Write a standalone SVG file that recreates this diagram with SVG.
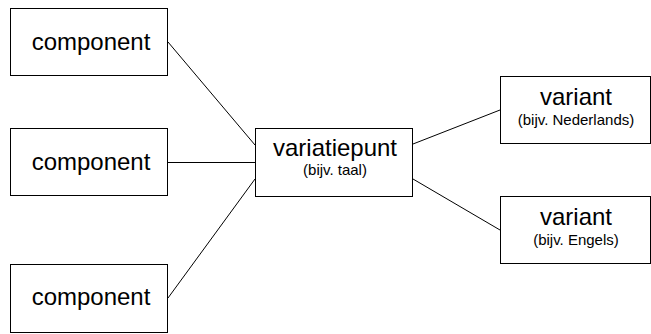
<svg xmlns="http://www.w3.org/2000/svg" width="651" height="334" viewBox="0 0 651 334">
<style>
.box{fill:#fff;stroke:#000;stroke-width:1}
.conn line{stroke:#000;stroke-width:1}
text{font-family:"Liberation Sans",Arial,sans-serif;fill:#000;text-anchor:middle}
.big{font-size:24px}
.small{font-size:15px}
</style>
<rect width="651" height="334" fill="#fff"/>
<g id="connectors" class="conn">
<line x1="168" y1="42" x2="255" y2="145"/>
<line x1="168" y1="162.5" x2="255" y2="162.5"/>
<line x1="168" y1="298" x2="255" y2="179"/>
<line x1="413" y1="144" x2="500" y2="110"/>
<line x1="413" y1="179" x2="500" y2="230"/>
</g>
<g id="component1"><rect class="box" x="10.5" y="8.5" width="157" height="67"/><text class="big" x="91" y="50">component</text></g>
<g id="component2"><rect class="box" x="10.5" y="128.5" width="157" height="67"/><text class="big" x="91" y="170">component</text></g>
<g id="component3"><rect class="box" x="10.5" y="264.5" width="157" height="68"/><text class="big" x="91" y="305">component</text></g>
<g id="variatiepunt"><rect class="box" x="255.5" y="128.5" width="157" height="68"/><text class="big" x="335" y="156">variatiepunt</text><text class="small" x="335" y="175">(bijv. taal)</text></g>
<g id="variant1"><rect class="box" x="500.5" y="76.5" width="150" height="67"/><text class="big" x="576" y="105">variant</text><text class="small" x="576" y="124.5">(bijv. Nederlands)</text></g>
<g id="variant2"><rect class="box" x="500.5" y="196.5" width="150" height="67"/><text class="big" x="576" y="225">variant</text><text class="small" x="576" y="244.5">(bijv. Engels)</text></g>
</svg>
